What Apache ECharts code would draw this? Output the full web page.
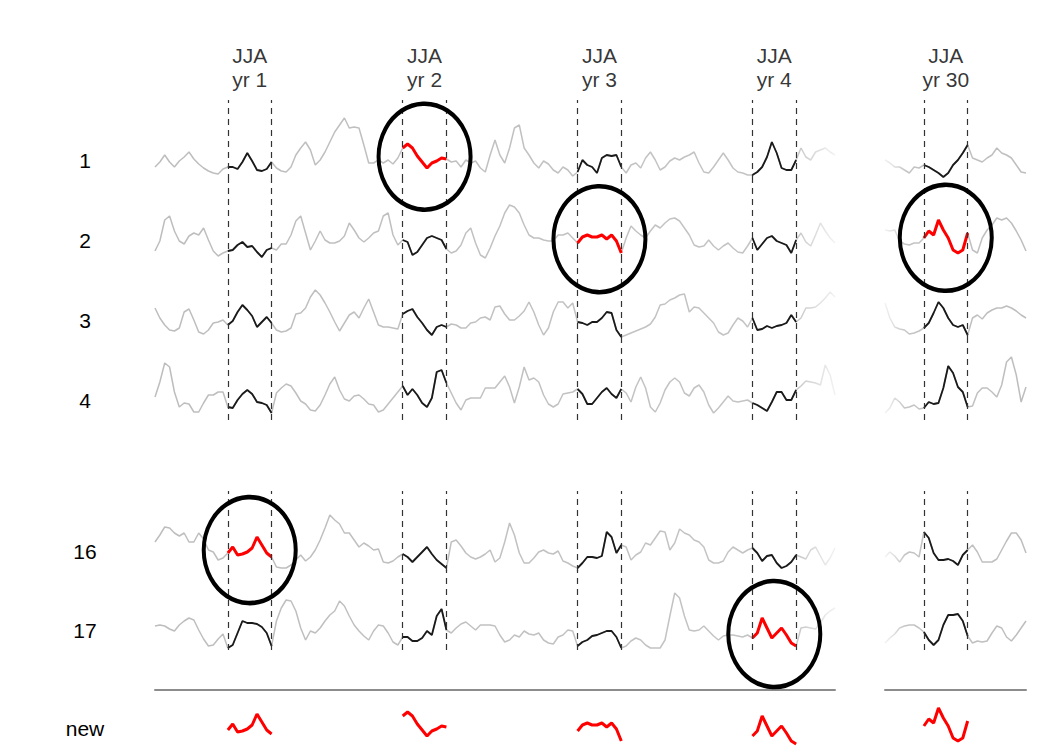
<!DOCTYPE html>
<html>
<head>
<meta charset="utf-8">
<title>JJA resampling</title>
<script src="https://cdn.jsdelivr.net/npm/echarts@6/dist/echarts.min.js"></script>
<style>
  html, body { margin: 0; padding: 0; background: #fff; }
  #main { width: 1061px; height: 746px; }
</style>
</head>
<body>
<div id="main"></div>
<script>
// ensemble members (rows) and years (columns), 36 steps per year, JJA = 9 steps
var rowNames = ['1', '2', '3', '4', '16', '17'];
var yearLabels = ['yr 1', 'yr 2', 'yr 3', 'yr 4'];
var lastYearLabel = 'yr 30';
var jjaStart = [15, 51, 87, 123];
var lastJjaStart = 8;
var jjaLength = 9;

// which (member, year) summer is drawn into the new series
var picks = [['1', 'yr 2'], ['2', 'yr 3'], ['16', 'yr 1'], ['17', 'yr 4'], ['2', 'yr 30']];

// anomalies, years 1-4
var row1 = [-7,-2,5,-2,-7,-1,3,8,1,-4,
  -8,-11,-13,-14,-9,-7,-7,-9,-2,7,
  -1,-10,-11,-9,-2,-8,-11,-12,-7,5,
  12,18,10,-5,0,8,18,28,35,42,
  32,33,32,15,-3,-3,0,-3,0,-4,
  2,12,16,12,4,-2,-8,-3,-1,2,
  1,-2,-1,-7,0,-3,-1,-8,-12,5,
  20,5,-3,12,32,35,12,5,-3,-8,
  -1,-4,-10,-13,-7,-10,-16,-12,0,-5,
  -7,-13,2,5,4,5,-7,-13,-5,-3,
  -8,2,8,0,-10,-7,-1,2,0,3,
  5,8,-3,-12,-13,-7,0,7,0,-8,
  -12,-13,-15,-15,-12,-7,3,18,7,-8,
  -10,-10,0,12,3,0,8,10,12,8,
  5];
var row2 = [-11,-1,20,24,9,-1,-4,4,7,5,
  12,0,-11,-16,-13,-11,-10,-5,-2,-7,
  -6,-12,-17,-10,-8,-10,-4,-4,5,19,
  24,7,-10,-1,9,0,-3,-3,-1,4,
  17,10,2,-2,2,7,9,24,27,5,
  -5,0,-2,-15,-12,-5,2,4,2,0,
  -9,-13,-11,-5,7,12,-3,-15,-18,-8,
  4,14,27,35,33,27,15,5,2,2,
  0,-1,-1,5,5,7,2,-3,3,5,
  3,3,5,1,5,-1,-13,2,14,9,
  5,2,9,15,12,17,21,22,19,12,
  5,-5,-7,-6,0,-6,-10,-6,-3,-8,
  -12,-13,-6,2,-10,-4,2,4,-1,-3,
  -5,-13,0,7,-2,-6,5,17,9,2,
  -3];
var row3 = [12,2,-5,-10,-11,-8,8,11,0,-12,
  -14,-10,-3,-2,0,-5,-1,8,15,10,
  4,-7,-2,3,-3,-10,-12,-11,-8,6,
  7,12,23,30,25,17,8,-2,-11,-3,
  5,8,2,12,21,8,-5,-7,-7,-8,
  -9,6,9,11,3,-3,-10,-15,-7,-5,
  -7,-4,-5,-8,-8,-3,-2,2,3,0,
  13,14,6,0,0,4,9,18,8,-5,
  -15,-8,8,18,18,12,17,-2,-3,-5,
  -2,-2,2,8,7,-10,-17,-15,-13,-11,
  -9,-7,-4,3,15,16,20,22,25,26,
  8,13,12,7,2,-3,-12,-15,-13,-5,
  2,-1,-7,2,-10,-9,-6,-8,-6,-5,
  -3,5,-2,2,12,12,13,17,22,28,
  23];
var row4 = [3,18,37,33,8,-7,-3,-4,-12,-12,
  -3,5,5,8,8,-7,-8,0,6,10,
  6,-2,-3,-5,-13,7,12,16,14,7,
  -1,-4,-10,-11,-5,5,16,23,10,1,
  -1,4,5,1,-4,-5,-12,-10,-4,2,
  8,14,5,11,5,-3,-7,2,28,30,
  17,7,-3,-10,0,2,2,2,12,12,
  12,18,24,13,-3,13,33,20,22,18,
  5,-4,-7,-4,6,7,8,11,6,-4,
  -4,2,8,12,6,2,11,7,-2,13,
  23,12,-7,-12,-3,10,18,22,18,7,
  4,12,15,8,-5,-13,-8,-2,4,-1,
  -2,-1,0,-3,-5,-8,-11,-2,8,8,
  0,0,10,14,19,18,17,15,35,25,
  5];
var row16 = [9,16,24,23,18,15,18,9,9,18,
  12,1,-1,-9,-7,-2,4,-4,-3,-1,
  3,14,6,-2,-6,-16,-17,-17,-14,-9,
  -4,-10,-6,1,11,23,36,31,27,18,
  18,11,4,8,5,1,2,-11,-12,-10,
  -6,-3,-6,-11,-6,-1,4,-3,-9,-13,
  -17,9,11,5,-2,-6,-8,-6,-3,1,
  -11,-7,9,28,16,-2,-12,-12,-7,-1,
  1,-2,-3,0,-10,-12,-15,-17,-12,-6,
  -6,-7,-5,19,14,-2,6,4,-9,-4,
  -1,8,6,13,20,19,1,8,22,18,
  16,11,9,4,-9,-12,-12,-10,-1,4,
  1,-2,1,3,-2,-10,-5,-4,-12,-17,
  -15,-11,-4,-6,-8,1,4,-5,-14,-7,
  3];
var row17 = [4,5,4,1,-1,5,9,12,10,0,
  -9,-16,-15,-9,-4,-18,-15,-3,9,7,
  7,6,3,-3,-16,9,22,30,29,19,
  2,-10,-1,-3,2,9,15,19,29,24,
  14,5,-1,-6,-10,-1,5,4,-3,-12,
  -15,-7,-7,-11,-11,-8,-1,-5,14,21,
  0,-3,2,6,8,4,0,5,5,5,
  4,-5,-12,-10,-5,-7,-1,-4,-5,-3,
  -10,-13,-14,-7,-5,0,-1,-16,-12,-10,
  -6,-5,-3,-1,-1,-7,-18,-16,-11,-8,
  -10,-15,-18,-18,-18,-10,14,37,32,14,
  0,-1,0,4,-1,-6,-10,-6,-5,-5,
  -6,-7,-5,-8,-3,12,2,-8,-3,2,
  -5,-13,-16,2,3,2,1,7,15,19,
  22];

// anomalies, around year 30
var row1Yr30 = [0,-3,-7,-7,-10,-13,-7,-8,-5,-7,-10,-13,-17,-13,-5,0,7,15,2,0,-2,2,5,12,7,5,2,-5,-12,-13];
var row2Yr30 = [10,9,10,-1,-4,-5,-3,-3,2,9,5,20,10,2,-10,-13,-10,7,-10,-13,2,10,15,22,20,22,17,9,0,-11];
var row3Yr30 = [17,2,-7,-9,-10,-14,-13,-11,-8,-3,7,18,12,2,-5,-7,-5,-15,2,5,1,7,10,12,12,14,12,9,5,2];
var row4Yr30 = [-13,-8,2,-2,-8,-7,-5,-9,-8,-2,-4,-3,12,34,27,13,8,-7,-6,7,12,12,8,3,15,38,43,25,-2,13];
var row16Yr30 = [-6,-1,-5,-11,-4,-1,-2,-6,19,13,-2,-9,-9,-8,-10,-14,-4,1,6,-1,-11,-11,-11,-8,1,10,18,18,11,-2];
var row17Yr30 = [-13,-8,-4,2,4,5,5,2,-2,-10,-15,-10,5,15,15,16,9,-6,-13,-11,-12,-11,-3,4,2,-7,-11,-5,2,9];

var leftRows = [row1, row2, row3, row4, row16, row17];
var rightRows = [row1Yr30, row2Yr30, row3Yr30, row4Yr30, row16Yr30, row17Yr30];

var FONT = 'Liberation Sans';
var rowTop = [100, 180, 260, 340, 491, 570];
var rowHeight = 80;
var blocks = [
  { left: 155, width: 680, starts: jjaStart, labels: yearLabels, data: leftRows,
    fade: [[0, '#bdbdbd'], [0.94, '#c4c4c4'], [1, '#f2f2f2']] },
  { left: 885, width: 141, starts: [lastJjaStart], labels: [lastYearLabel], data: rightRows,
    fade: [[0, '#f2f2f2'], [0.15, '#c4c4c4'], [1, '#bdbdbd']] }
];

var grids = [], xAxes = [], yAxes = [], series = [];

function addGrid(block, top, height, yMin, yMax, step, label, separator) {
  var k = grids.length;
  grids.push({ left: block.left, width: block.width, top: top, height: height });
  xAxes.push({
    type: 'value', gridIndex: k, min: 0, max: block.data[0].length - 1,
    show: !!separator, position: 'top',
    axisLine: { show: !!separator, onZero: false, lineStyle: { color: '#8c8c8c', width: 2 } },
    axisTick: { show: false }, axisLabel: { show: false }, splitLine: { show: false }
  });
  yAxes.push({
    type: 'value', gridIndex: k, min: yMin, max: yMax, interval: step, show: !!label,
    axisLine: { show: false }, axisTick: { show: false }, splitLine: { show: false },
    axisLabel: {
      show: !!label, margin: 70, align: 'center', fontFamily: FONT, fontSize: 21, color: '#000',
      formatter: function (v) { return v === 0 ? label : ''; }
    }
  });
  return k;
}

function segment(values, from, to) {
  var out = [];
  for (var i = from; i <= to; i++) out.push([i, values[i]]);
  return out;
}

function mean(values, from, to) {
  var s = 0;
  for (var i = from; i <= to; i++) s += values[i];
  return s / (to - from + 1);
}

function isPicked(row, col) {
  return picks.some(function (p) { return p[0] === row && p[1] === col; });
}

function circleItem(params, api) {
  var c = api.coord([api.value(0), api.value(1)]);
  return {
    type: 'circle', x: c[0], y: c[1], scaleY: 106 / 92,
    shape: { cx: 0, cy: 0, r: 46 },
    style: { fill: 'transparent', stroke: '#000', lineWidth: 4, strokeNoScale: true }
  };
}

var newRowPieces = [[], []];

rowNames.forEach(function (name, r) {
  blocks.forEach(function (block, b) {
    var values = block.data[r];
    var g = addGrid(block, rowTop[r], rowHeight, -20, 60, 20, b === 0 ? name : null, false);
    var dashes = [];
    block.starts.forEach(function (s) {
      dashes.push({ xAxis: s }, { xAxis: s + jjaLength });
    });
    series.push({
      type: 'line', xAxisIndex: g, yAxisIndex: g, symbol: 'none', clip: false, z: 2,
      data: segment(values, 0, values.length - 1),
      lineStyle: {
        width: 1.5,
        color: new echarts.graphic.LinearGradient(0, 0, 1, 0, block.fade.map(function (f) {
          return { offset: f[0], color: f[1] };
        }))
      },
      markLine: {
        silent: true, symbol: ['none', 'none'], label: { show: false },
        lineStyle: { color: '#333', type: [6, 5], width: 1.2 },
        data: dashes
      }
    });
    block.starts.forEach(function (s, c) {
      var col = block.labels[c];
      var red = isPicked(name, col);
      series.push({
        type: 'line', xAxisIndex: g, yAxisIndex: g, symbol: 'none', clip: false, z: red ? 4 : 3,
        data: segment(values, s, s + jjaLength),
        lineStyle: { width: red ? 3 : 1.8, color: red ? '#ff0000' : '#1a1a1a' }
      });
      if (red) {
        series.push({
          type: 'custom', xAxisIndex: g, yAxisIndex: g, z: 5, clip: false,
          renderItem: circleItem,
          data: [[s + jjaLength / 2, mean(values, s, s + jjaLength)]]
        });
        newRowPieces[b].push(segment(values, s, s + jjaLength));
      }
    });
    if (r === 0) {
      series.push({
        type: 'scatter', xAxisIndex: g, yAxisIndex: g, symbolSize: 1, clip: false,
        itemStyle: { color: 'transparent' },
        data: block.starts.map(function (s, c) {
          return { name: block.labels[c], value: [s + jjaLength / 2, 60] };
        }),
        label: {
          show: true, position: 'top', distance: 8, color: '#000',
          fontFamily: FONT, fontSize: 21, lineHeight: 24,
          formatter: function (p) { return 'JJA\n' + p.name; }
        }
      });
    }
  });
});

// the new, resampled series below the separator
blocks.forEach(function (block, b) {
  var g = addGrid(block, 690, 56, -18, 38, 2, b === 0 ? 'new' : null, true);
  newRowPieces[b].forEach(function (piece) {
    series.push({
      type: 'line', xAxisIndex: g, yAxisIndex: g, symbol: 'none', clip: false, z: 4,
      data: piece, lineStyle: { width: 3, color: '#ff0000' }
    });
  });
});

var chart = echarts.init(document.getElementById('main'), null, { renderer: 'svg' });
chart.setOption({
  backgroundColor: '#fff',
  animation: false,
  grid: grids,
  xAxis: xAxes,
  yAxis: yAxes,
  series: series
});
</script>
</body>
</html>
